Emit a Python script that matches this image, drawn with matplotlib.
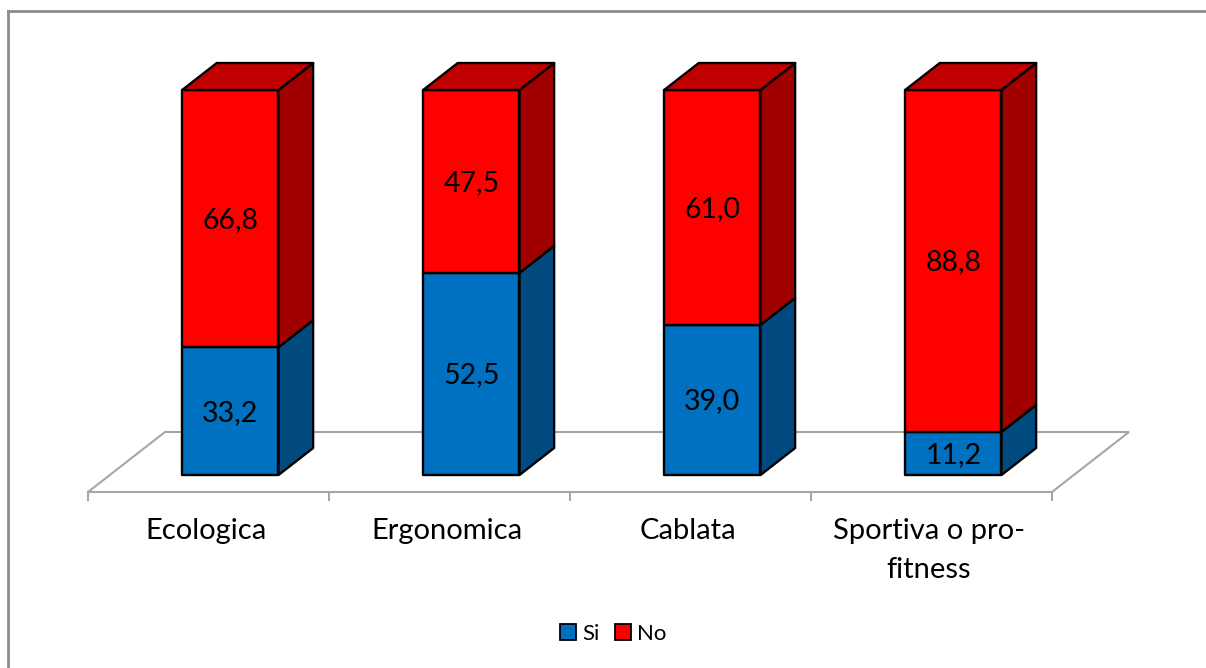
import matplotlib
matplotlib.use("Agg")
import matplotlib.pyplot as plt
from matplotlib.patches import Polygon, Patch
from matplotlib.lines import Line2D

plt.rcParams['font.family'] = ['Lato', 'DejaVu Sans']

categories = ["Ecologica", "Ergonomica", "Cablata", "Sportiva o pro-\nfitness"]
si_values = [33.2, 52.5, 39.0, 11.2]
no_values = [66.8, 47.5, 61.0, 88.8]
series_names = ["Si", "No"]

front_colors = {"Si": "#0070C0", "No": "#FF0000"}
side_colors = {"Si": "#004A80", "No": "#A00000"}
top_colors = {"Si": "#005A9E", "No": "#C00000"}

W, H = 1206, 668
fig = plt.figure(figsize=(W / 100, H / 100), dpi=100)
ax = fig.add_axes([0, 0, 1, 1])
ax.set_axis_off()

# linear data ranges chosen so one category = 241 px and one unit = 3.85 px
px_cat, px_val = 241.0, 3.85
x0_px, y0_px = 88.0, 492.0
ax.set_xlim(-0.5 - x0_px / px_cat, -0.5 + (W - x0_px) / px_cat)
ax.set_ylim((y0_px - H) / px_val, y0_px / px_val)

# oblique depth vector (full floor depth), in data units
DX, DY = 77.0 / px_cat, 60.0 / px_val
d_front, d_back = 0.283, 0.733
half_w = 0.2


def proj(x, v, d):
    return (x + d * DX, v + d * DY)


n = len(categories)
# floor
floor = [proj(-0.5, 0, 0), proj(n - 0.5, 0, 0), proj(n - 0.5, 0, 1), proj(-0.5, 0, 1)]
ax.add_patch(Polygon(floor, closed=True, facecolor="white", edgecolor="#A6A6A6",
                     lw=1.5, zorder=1))
for i in range(n + 1):
    x = i - 0.5
    ax.add_line(Line2D([x, x], [0, -8 / px_val], color="#A6A6A6", lw=1.5, zorder=1))


def box(xc, v0, v1, name, top):
    xl, xr = xc - half_w, xc + half_w
    kw = dict(closed=True, edgecolor="black", lw=1.7, joinstyle="round", zorder=3)
    front = [proj(xl, v0, d_front), proj(xr, v0, d_front),
             proj(xr, v1, d_front), proj(xl, v1, d_front)]
    side = [proj(xr, v0, d_front), proj(xr, v0, d_back),
            proj(xr, v1, d_back), proj(xr, v1, d_front)]
    ax.add_patch(Polygon(side, facecolor=side_colors[name], **kw))
    ax.add_patch(Polygon(front, facecolor=front_colors[name], **kw))
    if top:
        tp = [proj(xl, v1, d_front), proj(xr, v1, d_front),
              proj(xr, v1, d_back), proj(xl, v1, d_back)]
        ax.add_patch(Polygon(tp, facecolor=top_colors[name], **kw))
    cx, cy = proj(xc, (v0 + v1) / 2, d_front)
    ax.text(cx, cy - 0.4, f"{v1 - v0:.1f}".replace(".", ","), ha="center", va="center",
            fontsize=20.5, color="black", zorder=4)


for i in range(n):
    s, no = si_values[i], no_values[i]
    box(i, 0, s, "Si", False)
    box(i, s, s + no, "No", True)

# category labels
for i, lab in enumerate(categories):
    ax.text(i - 0.01, (y0_px - 518) / px_val, lab, ha="center", va="top",
            fontsize=21, linespacing=1.6)

# legend
handles = [Patch(facecolor=front_colors[s], edgecolor="black", lw=1.3, label=s)
           for s in series_names]
fig.legend(handles=handles, loc="center", bbox_to_anchor=(613 / W, 1 - 634 / H),
           ncol=2, frameon=False, fontsize=16, handlelength=0.75, handleheight=0.75,
           handletextpad=0.25, columnspacing=0.7)

# chart area border (top and left visible)
fig.add_artist(Line2D([8 / W, 8 / W], [0, 1 - 11 / H], transform=fig.transFigure,
                      color="#8C8C8C", lw=2))
fig.add_artist(Line2D([8 / W, 1], [1 - 11 / H, 1 - 11 / H], transform=fig.transFigure,
                      color="#8C8C8C", lw=2))

fig.savefig("out.png", dpi=100, facecolor="white")
